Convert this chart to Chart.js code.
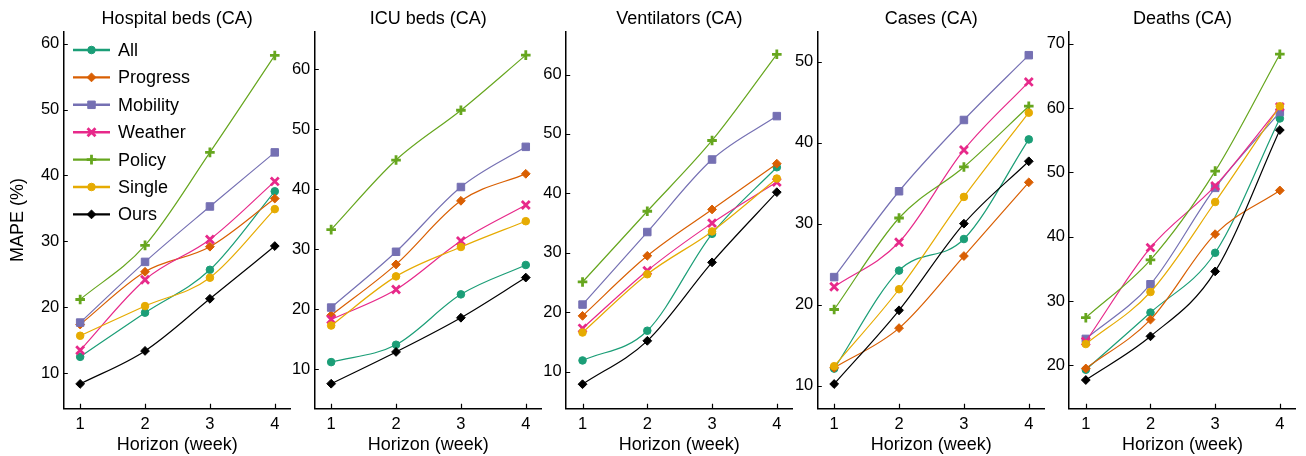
<!DOCTYPE html>
<html>
<head>
<meta charset="utf-8">
<script src="https://cdn.jsdelivr.net/npm/chart.js@4.4.1/dist/chart.umd.min.js"></script>
<style>
  html, body { margin: 0; padding: 0; background: #fff; }
  #wrap { position: relative; width: 1306px; height: 456px; overflow: hidden; }
  .panel { position: absolute; top: 0; height: 456px; }
</style>
</head>
<body>
<div id="wrap"></div>
<script>
// --- data ---
const horizons = [1, 2, 3, 4];
const seriesNames = ['All', 'Progress', 'Mobility', 'Weather', 'Policy', 'Single', 'Ours'];
const panelTitles = ['Hospital beds (CA)', 'ICU beds (CA)', 'Ventilators (CA)', 'Cases (CA)', 'Deaths (CA)'];

// rows follow seriesNames order
const hospitalBeds = [
    [12.5, 19.2, 25.7, 37.6],
    [17.4, 25.4, 29.2, 36.5],
    [17.7, 26.9, 35.3, 43.5],
    [13.5, 24.2, 30.3, 39.1],
    [21.2, 29.4, 43.5, 58.2],
    [15.7, 20.2, 24.5, 34.9],
    [8.4, 13.4, 21.3, 29.3]
];
const icuBeds = [
    [11.2, 14.1, 22.5, 27.4],
    [19.0, 27.5, 38.1, 42.6],
    [20.3, 29.6, 40.4, 47.1],
    [18.3, 23.3, 31.4, 37.4],
    [33.3, 44.9, 53.2, 62.4],
    [17.3, 25.5, 30.4, 34.7],
    [7.6, 12.9, 18.6, 25.3]
];
const ventilators = [
    [11.9, 16.9, 33.2, 44.4],
    [19.4, 29.5, 37.3, 45.0],
    [21.3, 33.5, 45.7, 53.0],
    [17.3, 27.0, 35.0, 41.9],
    [25.1, 37.0, 48.9, 63.4],
    [16.6, 26.4, 33.6, 42.5],
    [7.9, 15.2, 28.4, 40.2]
];
const cases = [
    [12.1, 24.2, 28.1, 40.4],
    [12.2, 17.1, 26.0, 35.1],
    [23.4, 34.0, 42.8, 50.8],
    [22.2, 27.7, 39.1, 47.5],
    [19.4, 30.7, 37.0, 44.5],
    [12.4, 21.9, 33.3, 43.7],
    [10.2, 19.3, 30.0, 37.7]
];
const deaths = [
    [19.3, 28.2, 37.5, 58.4],
    [19.5, 27.1, 40.4, 47.2],
    [24.1, 32.6, 47.6, 59.4],
    [23.7, 38.3, 47.9, 60.2],
    [27.4, 36.4, 50.2, 68.4],
    [23.3, 31.4, 45.4, 60.3],
    [17.7, 24.5, 34.6, 56.6]
];
const panelData = [hospitalBeds, icuBeds, ventilators, cases, deaths];

// y tick labels and axis ranges per panel
const yTicks = [
    [10, 20, 30, 40, 50, 60],
    [10, 20, 30, 40, 50, 60],
    [10, 20, 30, 40, 50, 60],
    [10, 20, 30, 40, 50],
    [20, 30, 40, 50, 60, 70]
];
const yMin = [4.7, 3.5, 3.85, 7.2, 13.3];
const yMax = [61.8, 66.3, 67.2, 53.7, 71.9];

// --- styles ---
const colors = ['#1b9e77', '#d95f02', '#7570b3', '#e7298a', '#66a61e', '#e6ab02', '#000000'];
const pointStyles = ['circle', 'rectRot', 'rect', 'crossRot', 'cross', 'circle', 'rectRot'];
const pointRadii = [3.8, 4.4, 5.3, 5.6, 4.8, 3.8, 4.4];
const pointBorders = [1, 1, 1, 2.8, 2.8, 1, 1];

const fontFamily = '"Liberation Sans", Arial, Helvetica, sans-serif';
Chart.defaults.font.family = fontFamily;
Chart.defaults.color = '#000';

// layout (px)
const axisLeft = [63.3, 314.3, 565.7, 817.3, 1069];
const plotWidth = 227.4;
const plotBottom = 408.3;

// ticks drawn inward like the original
const inwardTicks = {
    id: 'inwardTicks',
    afterDraw(chart) {
        const { ctx, chartArea: a, scales } = chart;
        ctx.save();
        ctx.strokeStyle = '#000';
        ctx.lineWidth = 1.2;
        ctx.beginPath();
        scales.y.ticks.forEach(t => {
            const py = Math.round(scales.y.getPixelForValue(t.value)) + 0.5;
            ctx.moveTo(a.left, py);
            ctx.lineTo(a.left + 4.5, py);
        });
        scales.x.ticks.forEach(t => {
            const px = Math.round(scales.x.getPixelForValue(t.value)) + 0.5;
            ctx.moveTo(px, a.bottom);
            ctx.lineTo(px, a.bottom - 4.5);
        });
        ctx.stroke();
        ctx.restore();
    }
};

// legend box inside the first panel (top-left)
const innerLegend = {
    id: 'innerLegend',
    afterDraw(chart, args, opts) {
        if (!opts.show) return;
        const { ctx, chartArea: a } = chart;
        const x0 = a.left + 9.7;
        const y0 = a.top + 18.3;
        const step = 27.4;
        ctx.save();
        chart.data.datasets.forEach((ds, k) => {
            const y = y0 + k * step;
            ctx.strokeStyle = ds.borderColor;
            ctx.lineWidth = 2.4;
            ctx.beginPath();
            ctx.moveTo(x0, y);
            ctx.lineTo(x0 + 37, y);
            ctx.stroke();
            ctx.fillStyle = ds.pointBackgroundColor;
            ctx.strokeStyle = ds.pointBorderColor;
            ctx.lineWidth = ds.pointBorderWidth;
            Chart.helpers.drawPoint(ctx, {
                pointStyle: ds.pointStyle,
                radius: ds.pointRadius,
                borderWidth: ds.pointBorderWidth,
                rotation: 0
            }, x0 + 18.5, y);
            ctx.fillStyle = '#000';
            ctx.font = '18px ' + fontFamily;
            ctx.textBaseline = 'middle';
            ctx.textAlign = 'left';
            ctx.fillText(ds.label, x0 + 45, y + 1);
        });
        ctx.restore();
    }
};

const wrap = document.getElementById('wrap');

panelData.forEach((rows, i) => {
    const left = i === 0 ? 0 : Math.floor(axisLeft[i]) - 50;
    const yw = axisLeft[i] - left;
    const div = document.createElement('div');
    div.className = 'panel';
    div.style.left = left + 'px';
    div.style.width = Math.round(yw + plotWidth) + 'px';
    const canvas = document.createElement('canvas');
    div.appendChild(canvas);
    wrap.appendChild(div);

    const datasets = rows.map((vals, k) => ({
        label: seriesNames[k],
        data: horizons.map((h, j) => ({ x: h, y: vals[j] })),
        borderColor: colors[k],
        backgroundColor: colors[k],
        borderWidth: 1.2,
        cubicInterpolationMode: 'monotone',
        pointStyle: pointStyles[k],
        pointRadius: pointRadii[k],
        pointBackgroundColor: colors[k],
        pointBorderColor: colors[k],
        pointBorderWidth: pointBorders[k],
        clip: false,
        order: seriesNames.length - k // later series on top
    }));

    new Chart(canvas, {
        type: 'line',
        data: { datasets },
        options: {
            responsive: true,
            maintainAspectRatio: false,
            animation: false,
            events: [],
            layout: { padding: 0, autoPadding: false },
            scales: {
                x: {
                    type: 'linear',
                    min: 0.74,
                    max: 4.25,
                    afterBuildTicks: s => { s.ticks = horizons.map(v => ({ value: v })); },
                    afterFit: s => {
                        s.height = 456 - plotBottom;
                        s.paddingLeft = 0;
                        s.paddingRight = 0;
                    },
                    grid: { display: false, drawTicks: false },
                    border: { display: true, color: '#000', width: 1.5 },
                    ticks: { color: '#000', font: { size: 16.5 }, padding: 6.3 },
                    title: {
                        display: true,
                        text: 'Horizon (week)',
                        color: '#000',
                        font: { size: 18 },
                        padding: { top: 0, bottom: 0 }
                    }
                },
                y: {
                    min: yMin[i],
                    max: yMax[i],
                    afterBuildTicks: s => { s.ticks = yTicks[i].map(v => ({ value: v })); },
                    afterFit: s => {
                        s.width = yw;
                        s.paddingTop = 0;
                        s.paddingBottom = 0;
                    },
                    grid: { display: false, drawTicks: false },
                    border: { display: true, color: '#000', width: 1.5 },
                    ticks: { color: '#000', font: { size: 16.5 }, padding: 4 },
                    title: {
                        display: i === 0,
                        text: 'MAPE (%)',
                        color: '#000',
                        font: { size: 18 },
                        padding: { top: 7.6, bottom: 0 }
                    }
                }
            },
            plugins: {
                legend: { display: false },
                tooltip: { enabled: false },
                title: {
                    display: true,
                    text: panelTitles[i],
                    fullSize: false,
                    color: '#000',
                    font: { size: 18, weight: 'normal' },
                    padding: { top: 8.5, bottom: 1.6 }
                },
                innerLegend: { show: i === 0 }
            }
        },
        plugins: [inwardTicks, innerLegend]
    });
});
</script>
</body>
</html>
